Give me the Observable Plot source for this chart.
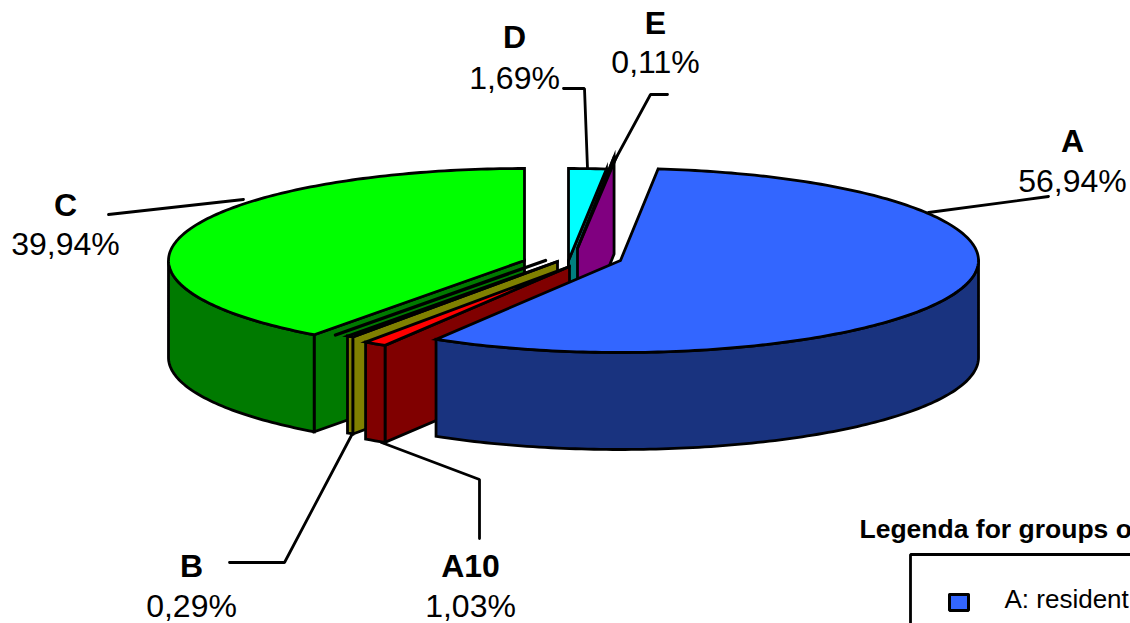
<!DOCTYPE html>
<html>
<head>
<meta charset="utf-8">
<style>
html,body{margin:0;padding:0;background:#fff;overflow:hidden}
svg{display:block}
</style>
<script src="https://cdn.jsdelivr.net/npm/d3@7"></script>
<script src="https://cdn.jsdelivr.net/npm/@observablehq/plot@0.6"></script>
</head>
<body>
<div id="chart"></div>
<script>
// Data; order is the clockwise order from 12 o'clock
const groups = ["D", "E", "A", "A10", "B", "C"];
const percents = [1.69, 0.11, 56.94, 1.03, 0.29, 39.94];
const percentLabels = ["1,69%", "0,11%", "56,94%", "1,03%", "0,29%", "39,94%"];
const topColors = ["#00ffff", "#ff00ff", "#3366ff", "#ff0000", "#ffff00", "#00ff00"];
const wallColors = ["#008080", "#800080", "#19337f", "#800000", "#808000", "#007a00"];
// Exploded centre, horizontal radius and small angular nudge of each slice
const centreX = [568, 577, 620, 569, 557, 524];
const centreY = [260, 248, 260, 266, 261, 260];
const radiusX = [358, 345, 358, 358, 358, 356];
const angleNudge = [0, 0, -0.45, -0.45, -0.3, 0];
const drawOrder = ["D", "E", "C", "B", "A10", "A"];

const ry = 92, depth = 97, lineW = 2.8;
const W = 1130, H = 623;

// Slices from cumulative values
let acc = 0;
const slices = groups.map((g, i) => {
  const a0 = acc / 100 * 360 + angleNudge[i];
  acc += percents[i];
  const a1 = acc / 100 * 360 + angleNudge[i];
  return {group: g, a0, a1, cx: centreX[i], cy: centreY[i], rx: radiusX[i], top: topColors[i], wall: wallColors[i]};
});
const pt = (s, deg, dz = 0) => {
  const r = deg * Math.PI / 180;
  return [s.cx + s.rx * Math.sin(r), s.cy - ry * Math.cos(r) + dz];
};
const arc = (s, from, to, dz = 0) => {
  const n = Math.max(1, Math.ceil(Math.abs(to - from)));
  return d3.range(n + 1).map(k => pt(s, from + (to - from) * k / n, dz));
};
const closed = p => [...p, p[0], p[1]]; // closes the outline so the first corner is mitred too

const poly = (p, fill) => Plot.line(closed(p), {
  x: d => d[0], y: d => d[1], fill, stroke: "#000", strokeWidth: lineW,
  strokeLinejoin: "miter", strokeMiterlimit: 12, curve: "linear"
});

const marks = [];
for (const name of drawOrder) {
  const s = slices.find(d => d.group === name);
  // cut wall: the edge that faces the viewer
  const cutAngle = name === "D" ? s.a1 : s.a0;
  if (name !== "A") {
    const centre = [s.cx, s.cy];
    const outer = pt(s, cutAngle);
    marks.push(poly([centre, outer, [outer[0], outer[1] + depth], [centre[0], centre[1] + depth]], s.wall));
  }
  // outer rim: only the front half of the ellipse shows
  const from = Math.max(s.a0, 90), to = Math.min(s.a1, 270);
  if (to > from) {
    marks.push(poly([...arc(s, from, to), ...arc(s, to, from, depth)], s.wall));
  }
  // top face
  marks.push(poly([[s.cx, s.cy], ...arc(s, s.a0, s.a1)], s.top));
  if (name === "C") {
    // hair-thin extra sliver seen beside C
    const g = {cx: 545, cy: 260, rx: 358};
    const o = pt(g, slices.find(d => d.group === "B").a1);
    marks.push(Plot.line([o, [g.cx, g.cy]], {x: d => d[0], y: d => d[1], stroke: "#000", strokeWidth: 3.4}));
  }
}

// Leader lines
const leaders = [
  [[928, 212], [1048, 196]],
  [[108, 214], [243, 199]],
  [[229, 562], [284, 562], [352, 433]],
  [[479, 538], [479, 479], [381, 442]],
  [[563, 88], [584, 88], [587, 168]],
  [[667, 94], [650, 94], [606, 175]]
];
for (const l of leaders) {
  marks.push(Plot.line(l, {x: d => d[0], y: d => d[1], stroke: "#000", strokeWidth: lineW, strokeLinejoin: "miter"}));
}

// Labels
const labelX = {A: 1072, E: 655, D: 514, C: 65, B: 191, A10: 470};
const labelY = {A: 152, E: 34, D: 48, C: 216, B: 577, A10: 577};
const gap = {A: 40, E: 39, D: 41, C: 39, B: 40, A10: 40};
const labelRows = groups.map((g, i) => ({g, pct: percentLabels[i], x: labelX[g], y: labelY[g], y2: labelY[g] + gap[g]}));
const font = "Liberation Sans, Arial, sans-serif";
marks.push(Plot.text(labelRows, {x: "x", y: "y", text: "g", fontWeight: "bold", fontSize: 32, fontFamily: font, fill: "#000", textAnchor: "middle", lineAnchor: "bottom", dy: -1}));
marks.push(Plot.text(labelRows, {x: "x", y: "y2", text: "pct", fontSize: 32, fontFamily: font, fill: "#000", textAnchor: "middle", lineAnchor: "bottom", dy: -1}));

// Legend, running off the edge of the picture
marks.push(Plot.text(["Legenda for groups o"], {x: () => 859, y: () => 538, text: d => d, fontWeight: "bold", fontSize: 26.5, fontFamily: font, fill: "#000", textAnchor: "start", lineAnchor: "bottom", dy: -1}));
marks.push(Plot.line([[910, 640], [910, 554], [1140, 554]], {x: d => d[0], y: d => d[1], stroke: "#000", strokeWidth: lineW, strokeLinejoin: "miter"}));
marks.push(Plot.line(closed([[949, 594], [968, 594], [968, 610], [949, 610]]), {x: d => d[0], y: d => d[1], fill: "#3366ff", stroke: "#000", strokeWidth: 3, strokeLinejoin: "miter"}));
marks.push(Plot.text(["A: resident"], {x: () => 1004, y: () => 608, text: d => d, fontSize: 26, fontFamily: font, fill: "#000", textAnchor: "start", lineAnchor: "bottom", dy: -1}));

const chart = Plot.plot({
  width: W, height: H,
  margin: 0,
  x: {domain: [0, W], range: [0, W], axis: null},
  y: {domain: [0, H], range: [0, H], axis: null},
  style: {background: "#fff", overflow: "hidden"},
  marks
});
document.getElementById("chart").append(chart);
</script>
</body>
</html>
